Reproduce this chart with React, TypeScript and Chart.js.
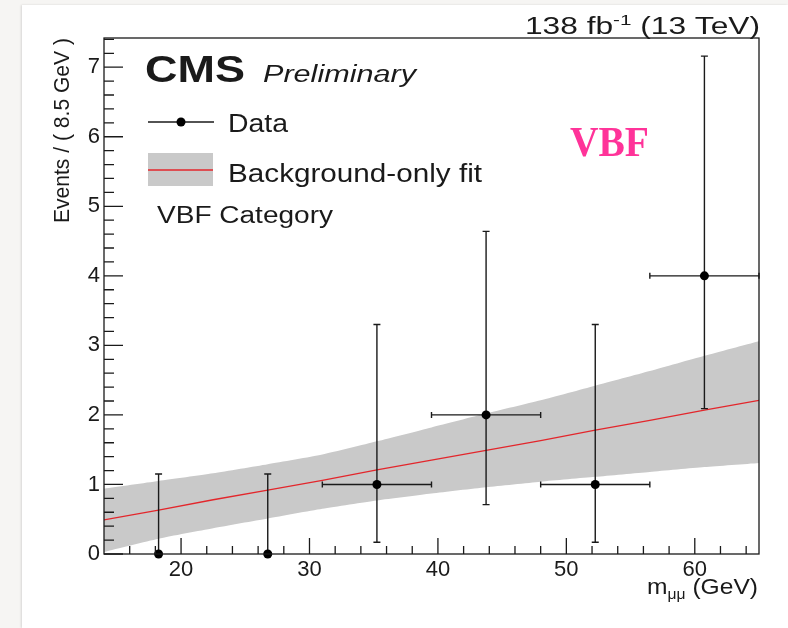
import React, { useEffect, useRef } from "react";
import { Chart, registerables } from "chart.js";

Chart.register(...registerables);

// ---- data ----
const binCenters = [18.25, 26.75, 35.25, 43.75, 52.25, 60.75];
const binHalfWidths = [0, 0, 4.25, 4.25, 4.25, 4.25];
const eventCounts = [0, 0, 1, 2, 1, 4];
const errDown = [0, 0, 0.83, 1.29, 0.83, 1.91];
const errUp = [1.15, 1.15, 2.3, 2.64, 2.3, 3.16];

const fitMass = [14, 18.25, 22.5, 26.75, 31, 35.25, 39.5, 43.75, 48, 52.25, 56.5, 60.75, 65];
const fitCentral = [0.49, 0.63, 0.78, 0.92, 1.06, 1.21, 1.35, 1.49, 1.63, 1.78, 1.92, 2.07, 2.21];
const bandUpper = [0.94, 1.05, 1.16, 1.29, 1.43, 1.62, 1.82, 2.02, 2.21, 2.42, 2.63, 2.85, 3.06];
const bandLower = [0.03, 0.22, 0.37, 0.51, 0.65, 0.77, 0.87, 0.96, 1.04, 1.11, 1.18, 1.25, 1.31];

const xTickValues = [20, 30, 40, 50, 60];
const yTickValues = [0, 1, 2, 3, 4, 5, 6, 7];
const xRange = [14, 65];
const yRange = [0, 7.42];

const FONT = '"Liberation Sans", Arial, Helvetica, sans-serif';
const INK = "#1a1a1a";

function fitText(
  ctx: CanvasRenderingContext2D,
  text: string,
  x: number,
  y: number,
  font: string,
  width: number,
  color = INK
) {
  ctx.save();
  ctx.font = font;
  ctx.fillStyle = color;
  ctx.textAlign = "left";
  ctx.textBaseline = "alphabetic";
  const w = ctx.measureText(text).width;
  ctx.translate(x, y);
  ctx.scale(width / w, 1);
  ctx.fillText(text, 0, 0);
  ctx.restore();
}

const rootPlugin = {
  id: "rootStyle",
  beforeDatasetDraw(chart: any, args: any) {
    if (args.index !== 0) return;
    const ctx = chart.ctx as CanvasRenderingContext2D;
    const xs = chart.scales.x;
    const ys = chart.scales.y;
    ctx.save();
    ctx.strokeStyle = INK;
    ctx.lineWidth = 1.4;
    for (let i = 0; i < binCenters.length; i++) {
      const cx = xs.getPixelForValue(binCenters[i]);
      const cy = ys.getPixelForValue(eventCounts[i]);
      const yLo = ys.getPixelForValue(eventCounts[i] - errDown[i]);
      const yHi = ys.getPixelForValue(eventCounts[i] + errUp[i]);
      ctx.beginPath();
      ctx.moveTo(cx, yLo);
      ctx.lineTo(cx, yHi);
      ctx.moveTo(cx - 3.5, yHi);
      ctx.lineTo(cx + 3.5, yHi);
      if (errDown[i] > 0) {
        ctx.moveTo(cx - 3.5, yLo);
        ctx.lineTo(cx + 3.5, yLo);
      }
      if (binHalfWidths[i] > 0) {
        const xL = xs.getPixelForValue(binCenters[i] - binHalfWidths[i]);
        const xR = xs.getPixelForValue(binCenters[i] + binHalfWidths[i]);
        ctx.moveTo(xL, cy);
        ctx.lineTo(xR, cy);
        ctx.moveTo(xL, cy - 3);
        ctx.lineTo(xL, cy + 3);
        ctx.moveTo(xR, cy - 3);
        ctx.lineTo(xR, cy + 3);
      }
      ctx.stroke();
    }
    ctx.restore();
  },
  afterDatasetsDraw(chart: any) {
    const ctx = chart.ctx as CanvasRenderingContext2D;
    const { left, right, top, bottom } = chart.chartArea;
    const xs = chart.scales.x;
    const ys = chart.scales.y;
    ctx.save();
    ctx.strokeStyle = INK;
    ctx.lineWidth = 1.3;
    ctx.strokeRect(left, top, right - left, bottom - top);
    ctx.beginPath();
    // x ticks (inward)
    for (const v of xTickValues) {
      const px = xs.getPixelForValue(v);
      ctx.moveTo(px, bottom);
      ctx.lineTo(px, bottom - 16);
    }
    for (let v = xRange[0] + 2; v < xRange[1]; v += 2) {
      if (v % 10 === 0) continue;
      const px = xs.getPixelForValue(v);
      ctx.moveTo(px, bottom);
      ctx.lineTo(px, bottom - 8);
    }
    // y ticks (inward)
    for (const v of yTickValues) {
      const py = ys.getPixelForValue(v);
      ctx.moveTo(left, py);
      ctx.lineTo(left + 19, py);
    }
    for (let k = 1; k * 0.2 < yRange[1]; k++) {
      if (k % 5 === 0) continue;
      const py = ys.getPixelForValue(k * 0.2);
      ctx.moveTo(left, py);
      ctx.lineTo(left + 10, py);
    }
    ctx.stroke();

    // ---- texts ----
    fitText(ctx, "CMS", 145, 82, `bold 37px ${FONT}`, 100);
    fitText(ctx, "Preliminary", 263, 82, `italic 23px ${FONT}`, 153);

    // legend
    ctx.strokeStyle = INK;
    ctx.lineWidth = 1.4;
    ctx.beginPath();
    ctx.moveTo(148, 122);
    ctx.lineTo(214, 122);
    ctx.stroke();
    ctx.fillStyle = "#000";
    ctx.beginPath();
    ctx.arc(181, 122, 4.5, 0, Math.PI * 2);
    ctx.fill();
    fitText(ctx, "Data", 228, 132, `25px ${FONT}`, 60);

    ctx.fillStyle = "#c9c9c9";
    ctx.fillRect(148, 153, 65, 33);
    ctx.strokeStyle = "#e3262b";
    ctx.lineWidth = 1.3;
    ctx.beginPath();
    ctx.moveTo(148, 170);
    ctx.lineTo(213, 170);
    ctx.stroke();
    fitText(ctx, "Background-only fit", 228, 182, `25px ${FONT}`, 254);
    fitText(ctx, "VBF Category", 157, 223, `23px ${FONT}`, 176);

    // pink tag
    fitText(ctx, "VBF", 570, 156, `bold 42px "Liberation Serif", "DejaVu Serif", serif`, 79, "#ff3399");

    // lumi label
    ctx.save();
    ctx.fillStyle = INK;
    ctx.textBaseline = "alphabetic";
    const mainF = `23px ${FONT}`;
    const supF = `15px ${FONT}`;
    ctx.font = mainF;
    const wA = ctx.measureText("138 fb").width;
    const wC = ctx.measureText(" (13 TeV)").width;
    ctx.font = supF;
    const wB = ctx.measureText("-1").width;
    const total = wA + wB + wC;
    const sx = (760 - 525) / total;
    ctx.translate(525, 34);
    ctx.scale(sx, 1);
    ctx.font = mainF;
    ctx.fillText("138 fb", 0, 0);
    ctx.font = supF;
    ctx.fillText("-1", wA, -9);
    ctx.font = mainF;
    ctx.fillText(" (13 TeV)", wA + wB, 0);
    ctx.restore();

    // x title
    ctx.save();
    ctx.fillStyle = INK;
    const tF = `22px ${FONT}`;
    const sF = `14px ${FONT}`;
    ctx.font = tF;
    const wm = ctx.measureText("m").width;
    const wg = ctx.measureText(" (GeV)").width;
    ctx.font = sF;
    const wmu = ctx.measureText("μμ").width;
    const sx2 = (758 - 647) / (wm + wmu + wg);
    ctx.translate(647, 594);
    ctx.scale(sx2, 1);
    ctx.font = tF;
    ctx.fillText("m", 0, 0);
    ctx.font = sF;
    ctx.fillText("μμ", wm, 5);
    ctx.font = tF;
    ctx.fillText(" (GeV)", wm + wmu, 0);
    ctx.restore();

    // y title
    ctx.save();
    ctx.translate(69, 223);
    ctx.rotate(-Math.PI / 2);
    fitText(ctx, "Events / ( 8.5 GeV )", 0, 0, `22px ${FONT}`, 185);
    ctx.restore();

    ctx.restore();
  },
};

export default function App() {
  const canvasRef = useRef<HTMLCanvasElement | null>(null);

  useEffect(() => {
    const canvas = canvasRef.current;
    if (!canvas) return;
    const pts = (ys: number[]) => fitMass.map((x, i) => ({ x, y: ys[i] }));
    const chart = new Chart(canvas, {
      type: "scatter",
      data: {
        datasets: [
          {
            label: "Data",
            data: binCenters.map((x, i) => ({ x, y: eventCounts[i] })),
            pointRadius: 4.5,
            pointBackgroundColor: "#000",
            pointBorderWidth: 0,
            showLine: false,
            clip: false,
          } as any,
          {
            label: "Background-only fit",
            data: pts(fitCentral),
            showLine: true,
            borderColor: "#e3262b",
            borderWidth: 1.3,
            pointRadius: 0,
            fill: false,
            tension: 0,
          },
          {
            label: "band upper",
            data: pts(bandUpper),
            showLine: true,
            borderColor: "rgba(0,0,0,0)",
            borderWidth: 1,
            pointRadius: 0,
            fill: "+1",
            backgroundColor: "#c9c9c9",
            tension: 0.2,
          },
          {
            label: "band lower",
            data: pts(bandLower),
            showLine: true,
            borderColor: "rgba(0,0,0,0)",
            borderWidth: 1,
            pointRadius: 0,
            fill: false,
            tension: 0.2,
          },
        ],
      },
      options: {
        animation: false,
        responsive: false,
        events: [],
        layout: { padding: { left: 0, top: 38, right: 29, bottom: 0 } },
        plugins: {
          legend: { display: false },
          tooltip: { enabled: false },
          title: { display: false },
        },
        scales: {
          x: {
            type: "linear",
            min: xRange[0],
            max: xRange[1],
            grid: { display: false, drawTicks: false },
            border: { display: false },
            afterBuildTicks: (s: any) => {
              s.ticks = xTickValues.map((v) => ({ value: v }));
            },
            afterFit: (s: any) => {
              s.height = 74;
            },
            ticks: {
              color: INK,
              font: { family: FONT, size: 22 },
              padding: 3,
              maxRotation: 0,
              autoSkip: false,
            },
          },
          y: {
            type: "linear",
            min: yRange[0],
            max: yRange[1],
            grid: { display: false, drawTicks: false },
            border: { display: false },
            afterBuildTicks: (s: any) => {
              s.ticks = yTickValues.map((v) => ({ value: v }));
            },
            afterFit: (s: any) => {
              s.width = 104;
            },
            ticks: {
              color: INK,
              font: { family: FONT, size: 22 },
              padding: 4,
              autoSkip: false,
            },
          },
        },
      },
      plugins: [rootPlugin],
    });
    return () => chart.destroy();
  }, []);

  return (
    <div
      style={{
        position: "fixed",
        left: 0,
        top: 0,
        width: 788,
        height: 628,
        background: "#f6f5f3",
        overflow: "hidden",
      }}
    >
      <div
        style={{
          position: "absolute",
          left: 22,
          top: 5,
          right: 0,
          bottom: 0,
          background: "#ffffff",
          boxShadow: "-1px 0 2px rgba(0,0,0,0.12)",
        }}
      />
      <canvas
        ref={canvasRef}
        width={788}
        height={628}
        style={{ position: "absolute", left: 0, top: 0, width: 788, height: 628 }}
      />
    </div>
  );
}
